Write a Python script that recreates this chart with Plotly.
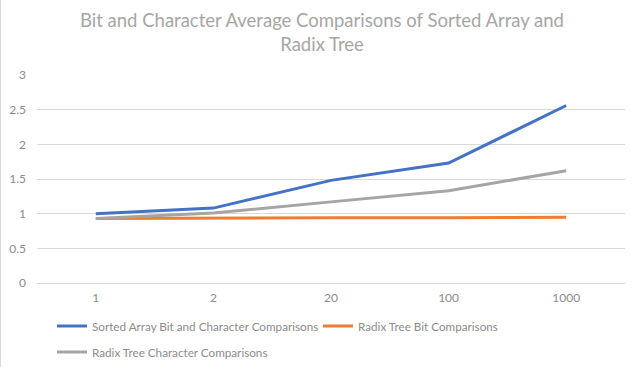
import plotly.graph_objects as go

categories = ["1", "2", "20", "100", "1000"]
sorted_array = [1.00, 1.08, 1.48, 1.73, 2.56]
radix_bit = [0.93, 0.94, 0.94, 0.94, 0.95]
radix_char = [0.93, 1.01, 1.17, 1.33, 1.62]

series_names = [
    "Sorted Array Bit and Character Comparisons",
    "Radix Tree Bit Comparisons",
    "Radix Tree Character Comparisons",
]
colors = ["#4472C4", "#ED7D31", "#A5A5A5"]
legend_ids = ["legend", "legend", "legend2"]

fig = go.Figure()
for name, vals, col, lg in zip(series_names, [sorted_array, radix_bit, radix_char], colors, legend_ids):
    fig.add_trace(go.Scatter(x=categories, y=vals, mode="lines", name=name,
                             line=dict(color=col, width=3), legend=lg))

W, H = 640, 367
L, R, T, B = 37, 15, 75, 84
pw = W - L - R
ph = H - T - B

def py(px):
    # pixel y from top -> paper coordinate
    return (H - B - px) / ph

leg_common = dict(orientation="h", xanchor="left", yanchor="middle",
                  font=dict(size=11.7, color="#8C8C8C", family="Lato"),
                  itemwidth=30, bgcolor="rgba(0,0,0,0)")

fig.update_layout(
    width=W, height=H,
    margin=dict(l=L, r=R, t=T, b=B, autoexpand=False),
    paper_bgcolor="white", plot_bgcolor="white",
    font=dict(family="Lato", color="#8C8C8C", size=12),
    title=dict(text="Bit and Character Average Comparisons of Sorted Array and<br>Radix Tree",
               x=322 / W, xanchor="center", xref="container", yref="container",
               y=1 - 27 / H, yanchor="top",
               font=dict(family="Lato", size=18.5, color="#A6A6A6")),
    xaxis=dict(type="category", range=[-0.5, 4.5], showgrid=False, showline=False,
               zeroline=False, ticks="", automargin=False, ticklabelstandoff=6,
               tickfont=dict(size=12, color="#8C8C8C")),
    yaxis=dict(range=[0, 3], dtick=0.5, gridcolor="#D9D9D9", gridwidth=1,
               zeroline=True, zerolinecolor="#D9D9D9", zerolinewidth=1,
               showline=False, ticks="", automargin=False,
               tickfont=dict(size=12, color="#8C8C8C"), ticklabelstandoff=10),
    legend=dict(x=(52 - L) / pw, y=py(326), entrywidth=221, **leg_common),
    legend2=dict(x=(52 - L) / pw, y=py(352), **leg_common),
    showlegend=True,
    shapes=[dict(type="line", xref="paper", yref="paper",
                 x0=(0.5 - L) / pw, x1=(0.5 - L) / pw, y0=-B / ph, y1=1 + T / ph,
                 line=dict(color="#D9D9D9", width=1))],
)

fig.write_html("out.html", config={"displayModeBar": False},
               post_script="document.body.style.margin='0';")
